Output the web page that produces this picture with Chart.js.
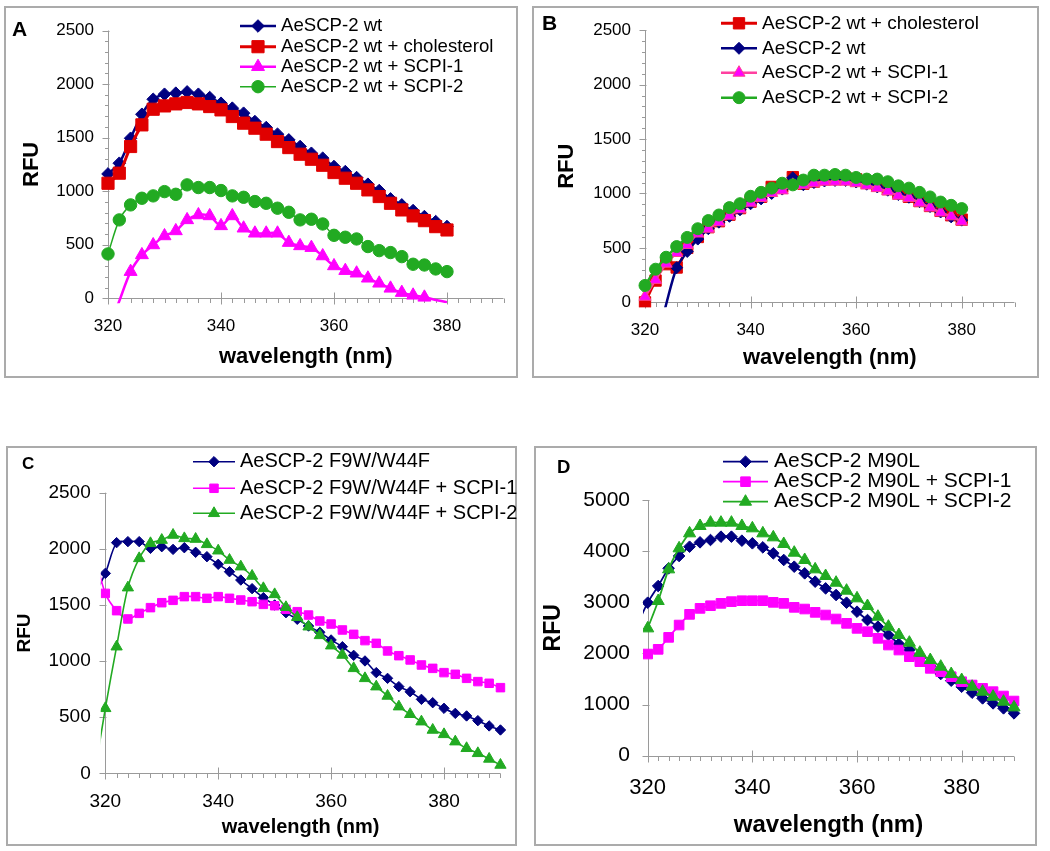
<!DOCTYPE html>
<html><head><meta charset="utf-8">
<script src="https://cdn.jsdelivr.net/npm/chart.js@4.4.1/dist/chart.umd.min.js"></script>
<style>
html,body{margin:0;padding:0;background:#fff;width:1050px;height:851px;overflow:hidden;position:relative}
.box{position:absolute;box-sizing:border-box;border:2px solid #ababab}
canvas{position:absolute}
</style></head><body>
<script>
// ---------- categories / tick labels ----------
const wavelengthAB = [320,322,324,326,328,330,332,334,336,338,340,342,344,346,348,350,352,354,356,358,360,362,364,366,368,370,372,374,376,378,380];
const wavelengthCD = [318,320,322,324,326,328,330,332,334,336,338,340,342,344,346,348,350,352,354,356,358,360,362,364,366,368,370,372,374,376,378,380,382,384,386,388,390];
const xTickLabels = [320,340,360,380];
const yTicks2500 = [0,500,1000,1500,2000,2500];
const yTicks5000 = [0,1000,2000,3000,4000,5000];

// ---------- panel A ----------
const A_wt      = [1161,1261,1494,1718,1858,1905,1915,1927,1905,1874,1821,1775,1728,1650,1594,1532,1479,1417,1354,1308,1230,1183,1127,1065,1006,928,872,819,763,716,670];
const A_chol    = [1074,1168,1417,1619,1765,1796,1815,1828,1815,1790,1759,1697,1635,1588,1532,1463,1407,1345,1298,1242,1174,1121,1074,1012,950,887,825,769,725,669,638];
const A_scpi1   = [-300,-25,249,405,498,582,629,732,778,769,676,769,654,607,607,607,520,489,473,395,302,258,234,187,140,93,53,28,9,-15,-37];
const A_scpi2   = [414,732,872,934,956,996,971,1059,1034,1034,1006,956,943,903,887,841,803,732,738,694,588,570,554,483,445,427,389,318,311,274,249];

// ---------- panel B ----------
const B_chol    = [0,200,350,320,500,600,690,745,805,865,925,970,1060,1060,1150,1090,1110,1130,1150,1140,1130,1100,1070,1040,1000,970,930,885,840,800,760];
const B_wt      = [-900,-400,-20,318,467,581,676,736,790,850,905,950,1000,1040,1145,1080,1100,1115,1120,1120,1105,1085,1060,1030,990,965,925,880,830,785,755];
const B_scpi1   = [51,206,355,453,527,632,676,736,796,855,915,959,1004,1028,1079,1079,1094,1108,1108,1108,1094,1073,1049,1019,980,959,915,870,825,790,742];
const B_scpi2   = [155,304,414,512,596,676,751,802,870,906,974,1010,1049,1094,1079,1123,1168,1168,1174,1168,1147,1132,1132,1108,1070,1049,1010,968,921,891,861];

// ---------- panel C ----------
const C_f9w     = [1578,1781,2055,2064,2064,2004,2019,1995,2010,1969,1930,1862,1796,1722,1645,1565,1500,1431,1372,1312,1256,1188,1128,1051,1001,897,846,772,727,659,629,579,534,511,469,422,386];
const C_scpi1   = [1975,1603,1449,1375,1425,1476,1520,1541,1574,1574,1559,1574,1559,1544,1529,1505,1493,1461,1440,1410,1357,1330,1277,1238,1182,1158,1090,1048,1010,965,935,897,882,846,817,802,763];
const C_scpi2   = [-38,579,1128,1654,1915,2049,2078,2123,2093,2087,2040,1983,1900,1841,1758,1648,1594,1479,1390,1306,1229,1137,1054,935,846,772,689,594,526,460,386,347,282,223,178,128,74];

// ---------- panel D ----------
const D_m90l    = [2554,2992,3318,3664,3905,4087,4172,4218,4283,4283,4205,4153,4074,3957,3827,3696,3566,3403,3272,3142,2992,2816,2653,2523,2360,2184,2066,1904,1754,1597,1467,1349,1232,1121,1023,926,828];
const D_scpi1   = [null,1988,2080,2314,2555,2764,2881,2933,2979,3012,3031,3031,3031,2999,2979,2901,2868,2803,2751,2673,2588,2490,2425,2295,2164,2066,1936,1838,1708,1643,1545,1447,1382,1317,1252,1167,1069];
const D_scpi2   = [null,2490,3025,3644,4055,4348,4492,4557,4557,4557,4492,4446,4348,4270,4140,3970,3827,3644,3514,3383,3227,3077,2927,2718,2523,2360,2210,2014,1871,1741,1597,1480,1349,1252,1154,1056,945];

const FONT = '"Liberation Sans", Arial, Helvetica, sans-serif';
const NAVY = '#000080', RED = '#e00000', MAG = '#ff00ff', GRN = '#22aa22';

function drawMarker(ctx, style, r, x, y) {
  ctx.beginPath();
  if (style === 'rectRot') {
    ctx.moveTo(x - r, y); ctx.lineTo(x, y - r); ctx.lineTo(x + r, y); ctx.lineTo(x, y + r); ctx.closePath();
  } else if (style === 'rect') {
    const s = Math.SQRT1_2 * r; ctx.rect(x - s, y - s, 2 * s, 2 * s);
  } else if (style === 'triangle') {
    let a = 0;
    ctx.moveTo(x + Math.sin(a) * r, y - Math.cos(a) * r); a += 2 * Math.PI / 3;
    ctx.lineTo(x + Math.sin(a) * r, y - Math.cos(a) * r); a += 2 * Math.PI / 3;
    ctx.lineTo(x + Math.sin(a) * r, y - Math.cos(a) * r); ctx.closePath();
  } else {
    ctx.arc(x, y, r, 0, Math.PI * 2);
  }
  ctx.fill(); ctx.stroke();
}

function makePanel(p) {
  const [bl, bt, bw, bh] = p.box;
  const div = document.createElement('div');
  div.className = 'box';
  Object.assign(div.style, {left: bl + 'px', top: bt + 'px', width: bw + 'px', height: bh + 'px'});
  document.body.appendChild(div);
  const cv = document.createElement('canvas');
  cv.width = bw; cv.height = bh;
  Object.assign(cv.style, {left: bl + 'px', top: bt + 'px', width: bw + 'px', height: bh + 'px'});
  document.body.appendChild(cv);

  const N = p.series.length;
  const datasets = p.series.map((s, i) => ({
    label: s.label,
    data: p.x.map((xv, j) => ({x: xv, y: s.values[j]})).filter(pt => pt.y !== null),
    borderColor: s.line,
    backgroundColor: s.fill,
    pointBackgroundColor: s.fill,
    pointBorderColor: s.edge || s.fill,
    pointBorderWidth: 1,
    borderWidth: s.lw,
    pointStyle: s.style,
    pointRadius: c => { const pt = c.raw; return (pt && (pt.y < 0 || pt.x < 320)) ? 0 : s.r; },
    tension: 0.3,
    fill: false,
    clip: p.clip,
    order: N - i
  }));

  const axesPlugin = {
    id: 'excelAxes' + p.letter,
    beforeDatasetsDraw(chart) {
      const {ctx, chartArea: ca, scales: {x, y}} = chart;
      const ax = Math.round(x.getPixelForValue(320)) + 0.5;
      const ay = Math.round(y.getPixelForValue(0)) + 0.5;
      ctx.save();
      ctx.strokeStyle = '#9a9a9a'; ctx.lineWidth = 1;
      ctx.beginPath();
      ctx.moveTo(ax, y.getPixelForValue(p.yMax)); ctx.lineTo(ax, ay);
      ctx.moveTo(ca.left, ay); ctx.lineTo(ca.right, ay);
      for (let v = 0; v <= p.yMax; v += p.yMinor) {
        const py = Math.round(y.getPixelForValue(v)) + 0.5;
        const major = v % p.yMajor === 0;
        ctx.moveTo(ax - (major ? 6 : 3.5), py); ctx.lineTo(ax + (major ? 1 : 0), py);
      }
      for (let v = 320; v <= p.xMax; v += 2) {
        const px = Math.round(x.getPixelForValue(v)) + 0.5;
        const major = v % 20 === 0;
        ctx.moveTo(px, ay - (major ? 6 : 0)); ctx.lineTo(px, ay + (major ? 6 : 4.5));
      }
      ctx.stroke();
      ctx.restore();
    }
  };

  const legendPlugin = {
    id: 'excelLegend' + p.letter,
    afterDraw(chart) {
      const ctx = chart.ctx, L = p.leg;
      ctx.save();
      chart.data.datasets.forEach((ds, i) => {
        const s = p.series[i], yy = L.rows[i];
        ctx.strokeStyle = s.line; ctx.lineWidth = s.lw;
        ctx.beginPath(); ctx.moveTo(L.x1, yy); ctx.lineTo(L.x2, yy); ctx.stroke();
        ctx.fillStyle = s.fill; ctx.strokeStyle = s.edge || s.fill; ctx.lineWidth = 1;
        drawMarker(ctx, s.style, s.r, (L.x1 + L.x2) / 2, yy);
        ctx.fillStyle = '#000'; ctx.font = L.font + 'px ' + FONT;
        ctx.textBaseline = 'middle'; ctx.textAlign = 'left';
        ctx.fillText(ds.label, L.tx, yy);
      });
      ctx.font = 'bold ' + p.letterFont + 'px ' + FONT;
      ctx.textBaseline = 'middle'; ctx.textAlign = 'left'; ctx.fillStyle = '#000';
      ctx.fillText(p.letter, p.letterX, p.letterY);
      ctx.restore();
    }
  };

  new Chart(cv, {
    type: 'line',
    data: {datasets},
    options: {
      responsive: false, animation: false, events: [],
      layout: {padding: p.pad},
      plugins: {legend: {display: false}, tooltip: {enabled: false}, title: {display: false}},
      scales: {
        x: {
          type: 'linear', min: p.xMin, max: p.xMax,
          grid: {display: false, drawTicks: false}, border: {display: false},
          afterFit: s => { s.height = p.xH; },
          afterBuildTicks: s => { s.ticks = xTickLabels.map(v => ({value: v})); },
          ticks: {font: {family: FONT, size: p.xTickFont}, color: '#000', padding: p.xTickPad, maxRotation: 0, autoSkip: false, callback: v => String(v)},
          title: {display: true, text: 'wavelength (nm)', color: '#000', font: {family: FONT, size: p.xTitleFont, weight: 'bold'}, padding: {top: 0, bottom: p.xTitlePadB}}
        },
        y: {
          type: 'linear', min: 0, max: p.yMax,
          grid: {display: false, drawTicks: false}, border: {display: false},
          afterFit: s => { s.width = p.yW; },
          afterBuildTicks: s => { s.ticks = p.yTicks.map(v => ({value: v})); },
          ticks: {font: {family: FONT, size: p.yTickFont}, color: '#000', padding: p.yTickPad, autoSkip: false, callback: v => String(v)},
          title: {display: true, text: 'RFU', color: '#000', font: {family: FONT, size: p.yTitleFont, weight: 'bold'}, padding: {top: p.yTitlePadT, bottom: 0}}
        }
      }
    },
    plugins: [axesPlugin, legendPlugin]
  });
}

makePanel({
  letter: 'A', letterFont: 21, letterX: 8, letterY: 24,
  box: [4, 6, 514, 372], pad: {left: 4, right: 14.5, top: 24.5, bottom: 4}, yW: 100, xH: 75.7,
  xMin: 320, xMax: 390, yMax: 2500, yMajor: 500, yMinor: 100, yTicks: yTicks2500,
  xTickFont: 17, yTickFont: 17, yTickPad: 14, xTickPad: 18.2,
  xTitleFont: 22, xTitlePadB: 3.8, yTitleFont: 22, yTitlePadT: 10.8,
  clip: {left: 10, top: 10, right: 10, bottom: 5},
  leg: {x1: 236, x2: 272, tx: 277, rows: [20, 40.7, 60.7, 80.7], font: 18.6},
  x: wavelengthAB,
  series: [
    {label: 'AeSCP-2 wt', values: A_wt, line: NAVY, fill: NAVY, lw: 2.5, style: 'rectRot', r: 6.3},
    {label: 'AeSCP-2 wt + cholesterol', values: A_chol, line: RED, fill: RED, lw: 3, style: 'rect', r: 8.6},
    {label: 'AeSCP-2 wt + SCPI-1', values: A_scpi1, line: MAG, fill: MAG, lw: 2.5, style: 'triangle', r: 7.5},
    {label: 'AeSCP-2 wt + SCPI-2', values: A_scpi2, line: GRN, fill: GRN, lw: 1.5, style: 'circle', r: 6.2}
  ]
});

makePanel({
  letter: 'B', letterFont: 21, letterX: 10, letterY: 18,
  box: [532, 6, 507, 372], pad: {left: 4, right: 24.5, top: 16.7, bottom: 4}, yW: 109, xH: 71.7,
  xMin: 320, xMax: 390, yMax: 2500, yMajor: 500, yMinor: 100, yTicks: yTicks2500,
  xTickFont: 17, yTickFont: 17, yTickPad: 14, xTickPad: 17.5,
  xTitleFont: 22, xTitlePadB: 2.5, yTitleFont: 22, yTitlePadT: 17.5,
  clip: {left: 10, top: 10, right: 10, bottom: 5},
  leg: {x1: 189, x2: 225, tx: 230, rows: [17.3, 42.3, 66.7, 91.7], font: 19},
  x: wavelengthAB,
  series: [
    {label: 'AeSCP-2 wt + cholesterol', values: B_chol, line: RED, fill: RED, lw: 3, style: 'rect', r: 8},
    {label: 'AeSCP-2 wt', values: B_wt, line: NAVY, fill: NAVY, lw: 2.5, style: 'rectRot', r: 6},
    {label: 'AeSCP-2 wt + SCPI-1', values: B_scpi1, line: '#ff40a0', fill: MAG, edge: '#ff4090', lw: 2.5, style: 'triangle', r: 7},
    {label: 'AeSCP-2 wt + SCPI-2', values: B_scpi2, line: GRN, fill: GRN, lw: 2.5, style: 'circle', r: 6}
  ]
});

makePanel({
  letter: 'C', letterFont: 17, letterX: 16, letterY: 18,
  box: [6, 446, 511, 400], pad: {left: 4, right: 16.55, top: 46.7, bottom: 4}, yW: 90.8, xH: 68.7,
  xMin: 319.2, xMax: 390, yMax: 2500, yMajor: 500, yMinor: 500, yTicks: yTicks2500,
  xTickFont: 19, yTickFont: 19, yTickPad: 10.1, xTickPad: 17,
  xTitleFont: 20, xTitlePadB: 2.7, yTitleFont: 19, yTitlePadT: 3.6,
  clip: {left: 0, top: 10, right: 10, bottom: 5},
  leg: {x1: 187, x2: 229, tx: 234, rows: [15.7, 42.3, 67.3], font: 20},
  x: wavelengthCD,
  series: [
    {label: 'AeSCP-2 F9W/W44F', values: C_f9w, line: NAVY, fill: NAVY, lw: 1.6, style: 'rectRot', r: 5.2},
    {label: 'AeSCP-2 F9W/W44F + SCPI-1', values: C_scpi1, line: MAG, fill: MAG, lw: 1.6, style: 'rect', r: 6},
    {label: 'AeSCP-2 F9W/W44F + SCPI-2', values: C_scpi2, line: GRN, fill: GRN, lw: 1.6, style: 'triangle', r: 6.5}
  ]
});

makePanel({
  letter: 'D', letterFont: 18.5, letterX: 23, letterY: 22.3,
  box: [534, 446, 503, 400], pad: {left: 4, right: 23, top: 54, bottom: 4}, yW: 105, xH: 86.3,
  xMin: 319.1, xMax: 390, yMax: 5000, yMajor: 1000, yMinor: 1000, yTicks: yTicks5000,
  xTickFont: 22, yTickFont: 21, yTickPad: 13, xTickPad: 19.4,
  xTitleFont: 24, xTitlePadB: 2.6, yTitleFont: 23, yTitlePadT: 1.5,
  clip: {left: 0, top: 10, right: 10, bottom: 5},
  leg: {x1: 189, x2: 234, tx: 240, rows: [15.7, 35.7, 55.7], font: 21},
  x: wavelengthCD,
  series: [
    {label: 'AeSCP-2 M90L', values: D_m90l, line: NAVY, fill: NAVY, lw: 1.8, style: 'rectRot', r: 5.8},
    {label: 'AeSCP-2 M90L + SCPI-1', values: D_scpi1, line: MAG, fill: MAG, lw: 1.8, style: 'rect', r: 6.8},
    {label: 'AeSCP-2 M90L + SCPI-2', values: D_scpi2, line: GRN, fill: GRN, lw: 1.8, style: 'triangle', r: 7}
  ]
});
</script>
</body></html>
